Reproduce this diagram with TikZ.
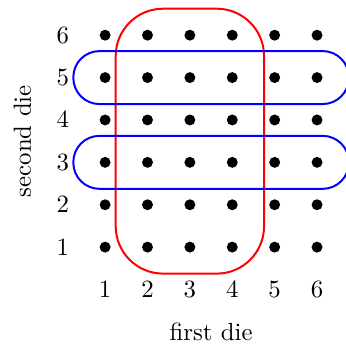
\documentclass[tikz,border=0pt]{standalone}
\begin{document}
\begin{tikzpicture}[x=0.6cm, y=0.6cm]
    \useasboundingbox (-1.48,-1.38) rectangle (6.66,6.83);
    % 標本点
    \foreach \x in {1,...,6} \foreach \y in {1,...,6} \fill (\x,\y) circle (2.2pt);
    
    % 目盛り
    \foreach \x in {1,...,6} \node (fx\x) at (\x,0) {$\x$};
    \foreach \y in {1,...,6} \node (sy\y) at (0,\y) {$\y$};
    \node (first) at (3.5,-1) {first die};
    \node[rotate=90] (second) at (-0.95,3.5) {second die};
    
    % 事象
    \draw[red, thick, rounded corners=0.67cm] (1.25,0.375) rectangle (4.75,6.625);
    \draw[blue, thick, rounded corners=0.37cm] (0.25,4.375) rectangle (6.75,5.625);
    \draw[blue, thick, rounded corners=0.37cm] (0.25,2.375) rectangle (6.75,3.625);
  \end{tikzpicture}
\end{document}
